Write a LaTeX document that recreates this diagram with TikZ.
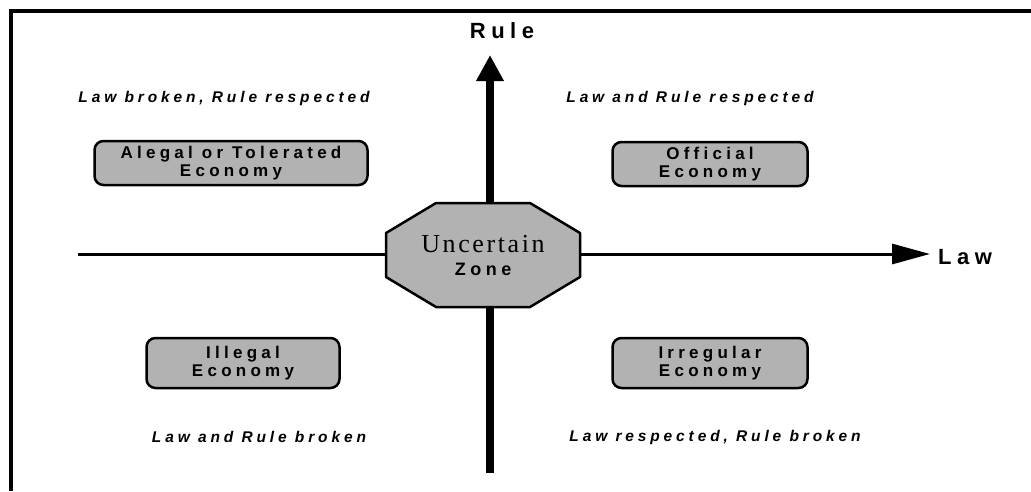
\documentclass[tikz,border=0pt]{standalone}
\usepackage{fontspec}
\setmainfont{Liberation Sans}
\newfontfamily\widesans[LetterSpace=25]{Liberation Sans}
\newfontfamily\wideserif[LetterSpace=10]{Liberation Serif}
\usetikzlibrary{arrows.meta}

\begin{document}
\begin{tikzpicture}[x=1pt,y=-1pt,
    economy/.style={shape=rectangle,draw=black,line width=2.5pt,rounded corners=9pt,fill=black!30,align=center,inner sep=0pt,font=\widesans\bfseries\fontsize{17}{18}\selectfont},
    quadrant/.style={font=\widesans\bfseries\itshape\fontsize{15.5}{18}\selectfont},
    axislabel/.style={font=\widesans\bfseries\fontsize{22}{24}\selectfont}]
    \useasboundingbox (0,0) rectangle (1031,491);
    \draw[line width=4pt] (11,491) -- (11,11) -- (1031,11);

    \coordinate (lawW) at (78,254);
    \coordinate (lawE) at (930,254);
    \coordinate (ruleS) at (490,473);
    \coordinate (ruleN) at (490,55);
    \path [line width=3pt,-{Triangle[length=38pt,width=20pt]}] (lawW) edge (lawE);
    \path [line width=8pt,-{Triangle[length=26pt,width=26pt]}] (ruleS) edge (ruleN);

    \node[axislabel] (rule) at (502,31) {Rule};
    \node[axislabel] (law) at (965,257) {Law};

    \coordinate (zoneC) at (483,255);
    \draw[line width=2.5pt,fill=black!30,line join=round] (zoneC) ++(-47,-52) -- ++(94,0) -- ++(50,30) -- ++(0,44) -- ++(-50,30) -- ++(-94,0) -- ++(-50,-30) -- ++(0,-44) -- cycle;
    \node[align=center,inner sep=0pt,font=\fontsize{18}{23}\selectfont] (zone) at (zoneC) {{\wideserif\fontsize{26}{23}\selectfont Uncertain}\\{\widesans\bfseries Zone}};

    \node[economy,minimum width=273pt,minimum height=44pt] (alegal) at (231,163) {Alegal or Tolerated\\Economy};
    \node[economy,minimum width=195pt,minimum height=44pt] (official) at (710,164) {Official\\Economy};
    \node[economy,minimum width=193pt,minimum height=50pt] (illegal) at (243,363) {Illegal\\Economy};
    \node[economy,minimum width=195pt,minimum height=50pt] (irregular) at (710,363) {Irregular\\Economy};

    \node[quadrant] (brokenRespected) at (224,98) {Law broken, Rule respected};
    \node[quadrant] (bothRespected) at (690,98) {Law and Rule respected};
    \node[quadrant] (bothBroken) at (259,437) {Law and Rule broken};
    \node[quadrant] (respectedBroken) at (715,437) {Law respected, Rule broken};
\end{tikzpicture}
\end{document}
